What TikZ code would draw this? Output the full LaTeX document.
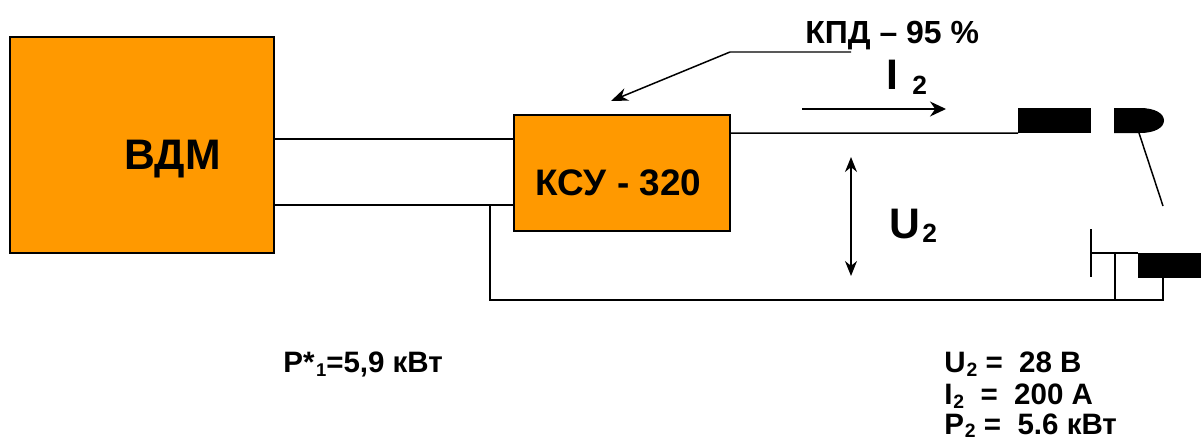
\documentclass[tikz,border=0pt]{standalone}
\usepackage{fontspec}
\setmainfont{Liberation Sans}
\usetikzlibrary{arrows.meta,positioning}
\definecolor{UnitOrange}{HTML}{FF9900}
\definecolor{WireInk}{HTML}{000000}
\newcommand{\lowidx}[3][2.3pt]{\raisebox{-#1}{\fontsize{#2}{#2}\selectfont #3}}

\begin{document}
\begin{tikzpicture}[
  x=1cm,y=1cm,>=Stealth,
  every node/.style={font=\bfseries,text=WireInk,inner sep=0pt},
  unit/.style={draw=WireInk,fill=UnitOrange,line width=.8pt,inner sep=0pt},
  gapblock/.style={fill=WireInk,inner sep=0pt,outer sep=0pt},
  wire/.style={draw=WireInk,line width=.85pt},
  pointer/.style={wire,-{Stealth[length=3.4mm,width=2.6mm]}},
  current/.style={wire,-{Stealth[length=3.2mm,width=3mm]}},
  voltage/.style={wire,{Stealth[length=3mm,width=2.4mm]}-{Stealth[length=3mm,width=2.4mm]}},
  bigtext/.style={font=\fontsize{24.3}{28}\bfseries\selectfont,anchor=base west},
  midtext/.style={font=\fontsize{21}{24}\bfseries\selectfont,anchor=base},
  smalltext/.style={font=\fontsize{16.8}{20}\bfseries\selectfont,anchor=base west}
]
\useasboundingbox (0,0) rectangle (24.02,8.82);
% Source and converter.
\node[unit,minimum width=5.28cm,minimum height=4.32cm] (vdm) at (2.84,5.92) {};
\node[unit,minimum width=4.32cm,minimum height=2.32cm] (ksu) at (12.44,5.36) {};
\node[bigtext,anchor=base] (vdmtext) at (3.45,5.44) {ВДМ};
\node[midtext] (ksutext) at (12.37,4.92) {КСУ - 320};
% Welding head at the right edge.
\node[gapblock,minimum width=1.46cm,minimum height=.5cm] (nozzle) at (21.09,6.41) {};
\node[gapblock,minimum width=1.26cm,minimum height=.5cm] (work) at (23.39,3.51) {};
\fill[WireInk] (22.28,6.66)--(22.8,6.66)
  .. controls (23.1,6.66) and (23.28,6.55) .. (23.28,6.41)
  .. controls (23.28,6.27) and (23.1,6.16) .. (22.8,6.16)--(22.28,6.16)--cycle;
\coordinate (vdmtop) at (5.48,6.04);
\coordinate (vdmbot) at (5.48,4.72);
\coordinate (ksutop) at (10.28,6.04);
\coordinate (ksubot) at (10.28,4.72);
\coordinate (ksuout) at (14.6,6.16);
\coordinate (retbend) at (9.8,4.72);
\coordinate (retcorner) at (9.8,2.82);
\coordinate (retend) at (23.26,2.82);
\coordinate (workfoot) at (23.26,3.26);
\coordinate (branchfoot) at (22.3,2.82);
\coordinate (branchtop) at (22.3,3.76);
\coordinate (platetop) at (21.82,4.24);
\coordinate (platemid) at (21.82,3.76);
\coordinate (platebot) at (21.82,3.28);
\coordinate (tiproot) at (22.78,6.16);
\coordinate (tipend) at (23.26,4.7);
\draw[wire] (vdmtop)--(ksutop);
\draw[wire] (vdmbot)--(ksubot);
\draw[wire] (ksuout)--(nozzle.south west);
\draw[wire] (retbend)--(retcorner)--(retend)--(workfoot);
\draw[wire] (branchfoot)--(branchtop);
\draw[wire] (platetop)--(platebot);
\draw[wire] (platemid)--(platemid-|work.west);
\draw[wire] (tiproot)--(tipend);
% Labels and their arrows.
\node[smalltext,font=\fontsize{18.2}{22}\bfseries\selectfont] (kpd) at (16.1,7.96) {КПД – 95 \%};
\coordinate (kpdend) at (17.02,7.78);
\coordinate (kpdbend) at (14.6,7.78);
\coordinate (kpdtip) at (12.22,6.8);
\draw[pointer] (kpdend)--(kpdbend)--(kpdtip);
\node[bigtext] (itwo) at (17.72,7.04) {I\hspace{.33em}\lowidx[3.4pt]{15}{2}};
\coordinate (curfrom) at (16.04,6.64);
\coordinate (curto) at (18.92,6.64);
\draw[current] (curfrom)--(curto);
\coordinate (volttop) at (17.02,5.68);
\coordinate (voltbot) at (17.02,3.3);
\draw[voltage] (volttop)--(voltbot);
\node[bigtext] (utwo) at (17.78,4.06) {U\hspace{.05em}\lowidx{15}{2}};
\node[smalltext] (pone) at (5.66,1.38) {P*\hspace{.05em}\lowidx{10.5}{1}=5,9 кВт};
\node[smalltext] (utext) at (18.88,1.38) {U\hspace{.03em}\lowidx{11}{2} =~~28 В};
\node[smalltext] (itext) at (18.88,.74) {I\hspace{.03em}\lowidx{11}{2}~~=~~200 А};
\node[smalltext] (ptext) at (18.88,.14) {P\hspace{.03em}\lowidx[1.8pt]{11}{2} =~~5.6 кВт};
\end{tikzpicture}
\end{document}
